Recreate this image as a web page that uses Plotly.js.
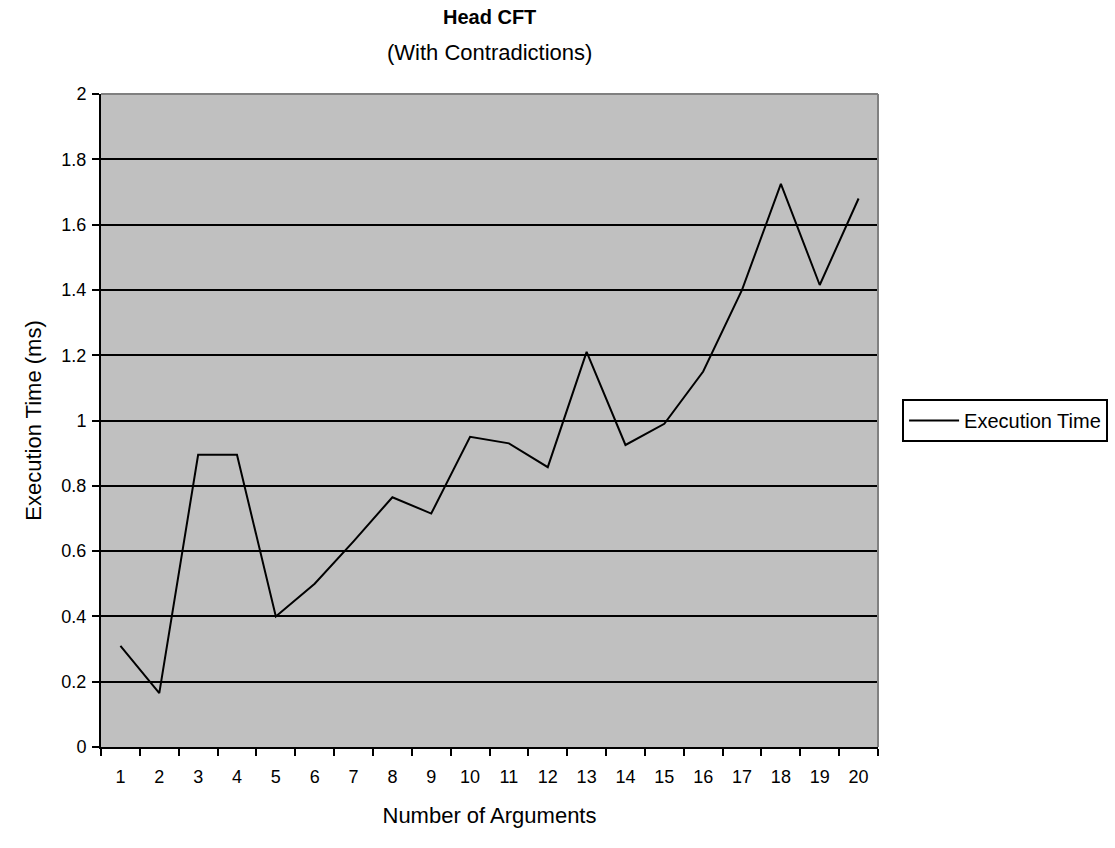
<!DOCTYPE html>
<html>
<head>
<meta charset="utf-8">
<script src="https://cdn.plot.ly/plotly-3.0.1.min.js"></script>
<style>
  html, body { margin: 0; padding: 0; background: #ffffff; }
  #chart { width: 1115px; height: 848px; }
</style>
</head>
<body>
<div id="chart"></div>
<script>
// Number of arguments (category axis)
const argumentCounts = ['1','2','3','4','5','6','7','8','9','10',
                        '11','12','13','14','15','16','17','18','19','20'];
// Execution time in milliseconds for each argument count
const executionTimeMs = [0.31, 0.165, 0.895, 0.895, 0.40, 0.50, 0.63, 0.765, 0.715, 0.95,
                         0.93, 0.857, 1.21, 0.925, 0.99, 1.15, 1.40, 1.725, 1.415, 1.68];
const yTickValues = [0, 0.2, 0.4, 0.6, 0.8, 1, 1.2, 1.4, 1.6, 1.8, 2];
const yTickLabels = ['0', '0.2', '0.4', '0.6', '0.8', '1', '1.2', '1.4', '1.6', '1.8', '2'];

const FONT = 'Liberation Sans, Arial, sans-serif';

const trace = {
  x: argumentCounts,
  y: executionTimeMs,
  type: 'scatter',
  mode: 'lines',
  name: 'Execution Time',
  line: { color: '#000000', width: 2 }
};

const layout = {
  width: 1115,
  height: 848,
  margin: { l: 101, r: 237, t: 94, b: 101, pad: 0, autoexpand: false },
  paper_bgcolor: '#ffffff',
  plot_bgcolor: '#c0c0c0',
  font: { family: FONT, size: 18, color: '#000000' },
  showlegend: true,
  legend: {
    x: 1.031, xanchor: 'left',
    y: 0.5, yanchor: 'middle',
    bordercolor: '#000000', borderwidth: 2,
    bgcolor: '#ffffff',
    font: { family: FONT, size: 20, color: '#000000' },
    itemwidth: 50
  },
  xaxis: {
    type: 'category',
    range: [-0.5, 19.5],
    tickson: 'boundaries',
    ticks: 'outside', ticklen: 7, tickwidth: 2, tickcolor: '#000000',
    ticklabelstandoff: 12,
    showline: true, linecolor: '#000000', linewidth: 2,
    showgrid: false, zeroline: false,
    tickfont: { family: FONT, size: 18 },
    title: { text: 'Number of Arguments', font: { family: FONT, size: 22 }, standoff: 22 },
    fixedrange: true
  },
  yaxis: {
    range: [0, 2],
    tickvals: yTickValues,
    ticktext: yTickLabels,
    ticks: 'outside', ticklen: 7, tickwidth: 2, tickcolor: '#000000',
    ticklabelstandoff: 2,
    showline: true, linecolor: '#000000', linewidth: 2,
    showgrid: true, gridcolor: '#000000', gridwidth: 2,
    zeroline: false,
    tickfont: { family: FONT, size: 18 },
    title: { text: 'Execution Time (ms)', font: { family: FONT, size: 22 }, standoff: 14 },
    fixedrange: true
  },
  shapes: [
    // grey frame along the top and right of the plot area
    { type: 'line', xref: 'paper', yref: 'paper', x0: 0, x1: 1, y0: 1, y1: 1,
      line: { color: '#808080', width: 2 } },
    { type: 'line', xref: 'paper', yref: 'paper', x0: 1, x1: 1, y0: 0, y1: 1,
      line: { color: '#808080', width: 2 } }
  ],
  annotations: [
    { text: '<b>Head CFT</b>', xref: 'paper', yref: 'paper', x: 0.5, y: 1.118,
      xanchor: 'center', yanchor: 'middle', showarrow: false,
      font: { family: FONT, size: 20 } },
    { text: '(With Contradictions)', xref: 'paper', yref: 'paper', x: 0.5, y: 1.064,
      xanchor: 'center', yanchor: 'middle', showarrow: false,
      font: { family: FONT, size: 22 } }
  ]
};

Plotly.newPlot('chart', [trace], layout, { displayModeBar: false, staticPlot: true });
</script>
</body>
</html>
